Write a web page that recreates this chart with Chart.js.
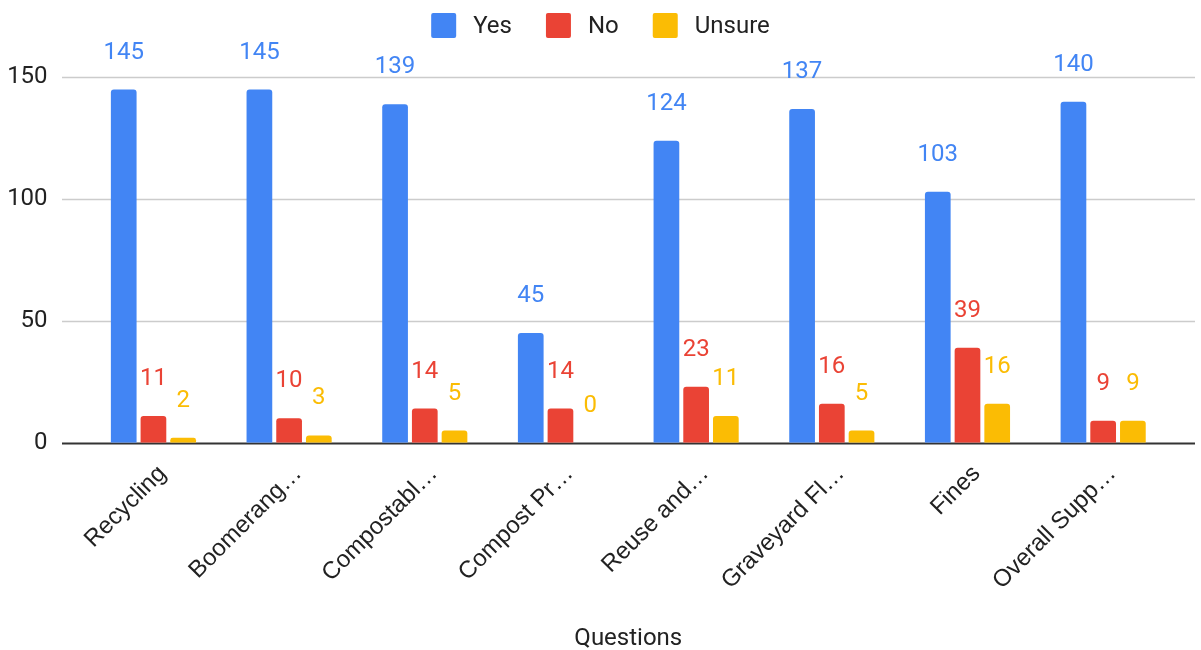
<!DOCTYPE html>
<html>
<head>
<meta charset="utf-8">
<script src="https://cdn.jsdelivr.net/npm/chart.js@4.4.1/dist/chart.umd.min.js"></script>
<style>
    html, body { margin: 0; padding: 0; background: #fff; }
    #wrap { width: 1201px; height: 650px; }
</style>
</head>
<body>
<div id="wrap"><canvas id="chart"></canvas></div>
<script>
const categories = ['Recycling', 'Boomerang…', 'Compostabl…', 'Compost Pr…', 'Reuse and…', 'Graveyard Fl…', 'Fines', 'Overall Supp…'];
const yesValues = [145, 145, 139, 45, 124, 137, 103, 140];
const noValues = [11, 10, 14, 14, 23, 16, 39, 9];
const unsureValues = [2, 3, 5, 0, 11, 5, 16, 9];
const yTicks = [0, 50, 100, 150];

const FONT = 'Roboto';
const LABEL_FONT = '"Liberation Sans", Arial';
const TEXT = '#222222';

// gridlines run a bit wider than the plot, like the sheets chart
const gridPlugin = {
    id: 'wideGrid',
    beforeDatasetsDraw(chart) {
        const ctx = chart.ctx;
        const y = chart.scales.y;
        ctx.save();
        y.ticks.forEach(t => {
            const py = Math.round(y.getPixelForValue(t.value)) + 0.5;
            ctx.beginPath();
            ctx.lineWidth = t.value === 0 ? 2 : 1.5;
            ctx.strokeStyle = t.value === 0 ? '#333333' : '#cccccc';
            ctx.moveTo(62, py);
            ctx.lineTo(1195, py);
            ctx.stroke();
        });
        ctx.restore();
    }
};

const valueLabels = {
    id: 'valueLabels',
    afterDatasetsDraw(chart) {
        const ctx = chart.ctx;
        ctx.save();
        ctx.font = `24px ${FONT}`;
        ctx.textAlign = 'center';
        ctx.textBaseline = 'middle';
        chart.data.datasets.forEach((ds, i) => {
            ctx.fillStyle = ds.backgroundColor;
            chart.getDatasetMeta(i).data.forEach((bar, j) => {
                ctx.fillText(String(ds.data[j]), bar.x, bar.y - 37);
            });
        });
        ctx.restore();
    }
};

const topLegend = {
    id: 'topLegend',
    afterDraw(chart) {
        const ctx = chart.ctx;
        const box = 25, gap = 17, itemGap = 34;
        ctx.save();
        ctx.font = `24px ${FONT}`;
        ctx.textBaseline = 'middle';
        const items = chart.data.datasets.map(ds => ({
            label: ds.label,
            color: ds.backgroundColor,
            w: box + gap + ctx.measureText(ds.label).width
        }));
        const total = items.reduce((s, it) => s + it.w, 0) + itemGap * (items.length - 1);
        let x = chart.width / 2 - total / 2;
        items.forEach(it => {
            ctx.fillStyle = it.color;
            ctx.beginPath();
            ctx.roundRect(x, 13, box, box, 2);
            ctx.fill();
            ctx.fillStyle = TEXT;
            ctx.fillText(it.label, x + box + gap, 27);
            x += it.w + itemGap;
        });
        ctx.restore();
    }
};

const ctx = document.getElementById('chart').getContext('2d');
new Chart(ctx, {
    type: 'bar',
    data: {
        labels: categories,
        datasets: [
            { label: 'Yes', data: yesValues, backgroundColor: '#4285F4' },
            { label: 'No', data: noValues, backgroundColor: '#EA4335' },
            { label: 'Unsure', data: unsureValues, backgroundColor: '#FBBC04' }
        ]
    },
    options: {
        responsive: true,
        maintainAspectRatio: false,
        animation: false,
        layout: { padding: { top: 53, right: 30, bottom: 0, left: 0 } },
        datasets: {
            bar: {
                categoryPercentage: 0.657,
                barPercentage: 0.865,
                borderRadius: 3
            }
        },
        plugins: {
            legend: { display: false },
            tooltip: { enabled: false }
        },
        scales: {
            x: {
                grid: { display: false, drawTicks: false },
                border: { display: false },
                ticks: {
                    autoSkip: false,
                    maxRotation: 45,
                    minRotation: 45,
                    padding: 17,
                    labelOffset: 9,
                    color: TEXT,
                    font: { family: LABEL_FONT, size: 24 }
                },
                title: {
                    display: true,
                    text: 'Questions',
                    color: TEXT,
                    font: { family: FONT, size: 24 },
                    padding: { top: 0, bottom: -3 }
                },
                afterFit(scale) { scale.height = 207.3; }
            },
            y: {
                min: 0,
                max: 160,
                grid: { display: false, drawTicks: false },
                border: { display: false },
                afterBuildTicks(scale) {
                    scale.ticks = yTicks.map(v => ({ value: v }));
                },
                ticks: {
                    padding: 38,
                    color: TEXT,
                    font: { family: FONT, size: 24 }
                },
                afterFit(scale) { scale.width = 85.6; }
            }
        }
    },
    plugins: [gridPlugin, valueLabels, topLegend]
});
</script>
</body>
</html>
